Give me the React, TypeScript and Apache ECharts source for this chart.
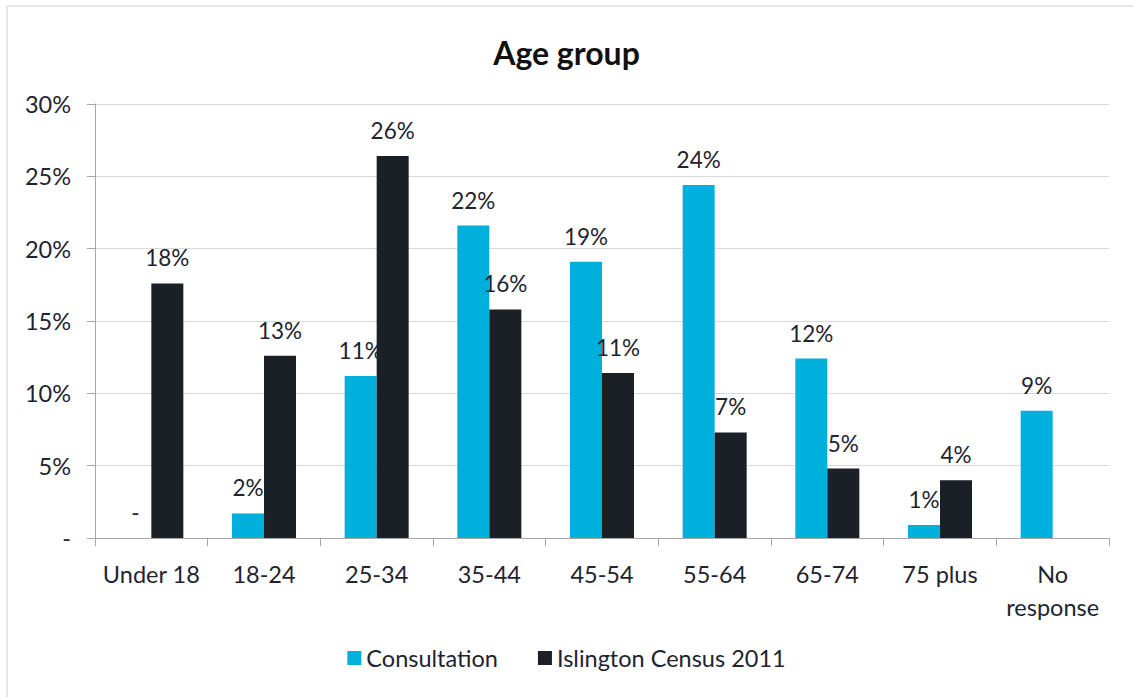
import React, { useEffect, useRef } from "react";
import * as echarts from "echarts";

const categories = ["Under 18", "18-24", "25-34", "35-44", "45-54", "55-64", "65-74", "75 plus", "No\nresponse"];
const consultation = [0, 1.7, 11.2, 21.6, 19.1, 24.4, 12.4, 0.9, 8.8];
const census = [17.6, 12.6, 26.4, 15.8, 11.4, 7.3, 4.8, 4.0, null];
const seriesNames = ["Consultation", "Islington Census 2011"];
const colors = ["#00B0DC", "#1B1F26"];

const FONT = "Lato, 'Open Sans', sans-serif";
const TEXT = "#1F2430";

export default function App() {
  const ref = useRef<HTMLDivElement>(null);
  useEffect(() => {
    document.body.style.margin = "0";
    const chart = echarts.init(ref.current!, null, { renderer: "svg" });
    const labelCfg = {
      show: true,
      position: "top" as const,
      distance: 14,
      color: TEXT,
      fontFamily: FONT,
      fontSize: 22.5,
      formatter: (p: any) => (p.value === 0 ? "-" : Math.round(p.value) + "%"),
    };
    chart.setOption({
      animation: false,
      textStyle: { fontFamily: FONT },
      graphic: [
        {
          type: "rect",
          shape: { x: 7, y: 6, width: 1140, height: 710 },
          style: { fill: "none", stroke: "#D0D0D0", lineWidth: 1 },
          silent: true,
        },
      ],
      title: {
        text: "Age group",
        left: "center",
        top: 31,
        textStyle: { fontFamily: FONT, fontSize: 32, fontWeight: "bold", color: "#111" },
      },
      legend: {
        bottom: 22,
        left: "center",
        itemWidth: 14,
        itemHeight: 14,
        itemGap: 40,
        icon: "rect",
        textStyle: { fontFamily: FONT, fontSize: 23.5, color: TEXT },
        data: seriesNames,
      },
      grid: { left: 95, right: 24, top: 104, bottom: 159, containLabel: false },
      xAxis: {
        type: "category",
        data: categories,
        axisLine: { lineStyle: { color: "#A6A6A6", width: 1 } },
        axisTick: { show: true, length: 8, lineStyle: { color: "#A6A6A6" } },
        axisLabel: {
          color: TEXT,
          fontFamily: FONT,
          fontSize: 23.5,
          margin: 19,
          lineHeight: 33,
          interval: 0,
        },
      },
      yAxis: {
        type: "value",
        min: 0,
        max: 30,
        interval: 5,
        axisLine: { show: true, lineStyle: { color: "#A6A6A6", width: 1 } },
        axisTick: { show: true, length: 8, lineStyle: { color: "#A6A6A6" } },
        splitLine: { lineStyle: { color: "#D9D9D9" } },
        axisLabel: {
          color: TEXT,
          fontFamily: FONT,
          fontSize: 23.5,
          margin: 24,
          formatter: (v: number) => (v === 0 ? "-" : v + "%"),
        },
      },
      series: [
        {
          name: seriesNames[0],
          type: "bar",
          data: consultation,
          barWidth: 32,
          barGap: "0%",
          itemStyle: { color: colors[0] },
          label: labelCfg,
        },
        {
          name: seriesNames[1],
          type: "bar",
          data: census,
          barWidth: 32,
          barGap: "0%",
          itemStyle: { color: colors[1] },
          label: labelCfg,
        },
      ],
    });
    return () => chart.dispose();
  }, []);
  return <div ref={ref} style={{ width: 1133, height: 697 }} />;
}
